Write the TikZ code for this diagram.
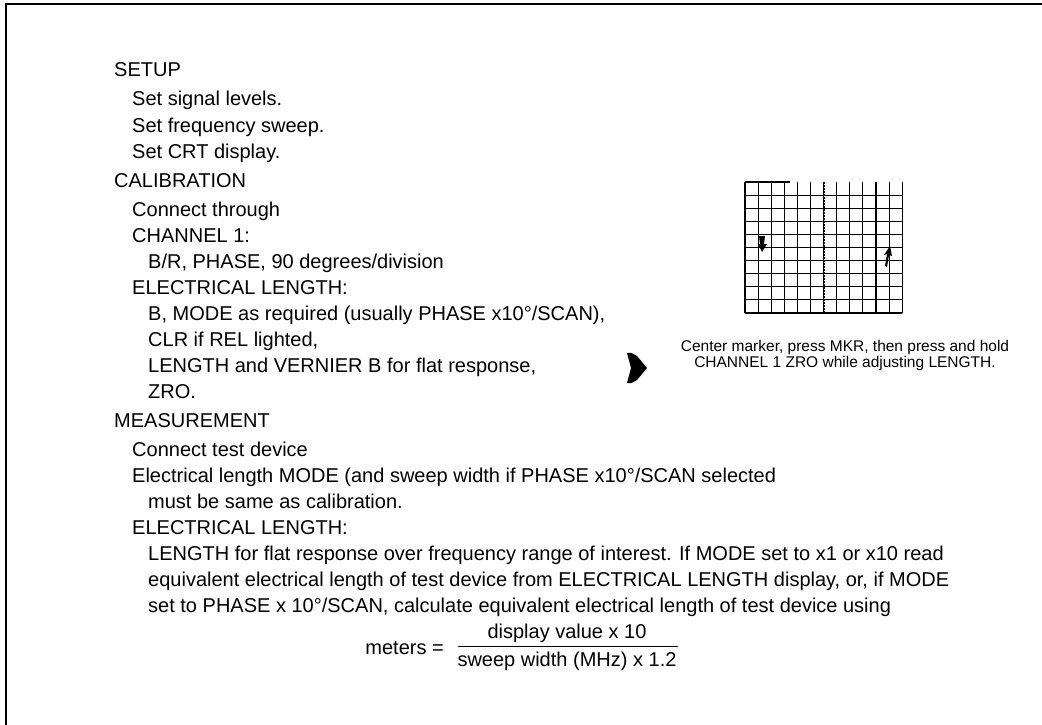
\documentclass[tikz,border=0pt]{standalone}
\usepackage{fontspec}
\setmainfont{Liberation Sans}
\begin{document}
\begin{tikzpicture}[x=1pt,y=-1pt,
  txt/.style={anchor=base west,inner sep=0pt,font=\fontsize{20}{24}\selectfont},
  frm/.style={inner sep=0pt,font=\fontsize{20}{24}\selectfont},
  capt/.style={inner sep=0pt,anchor=base,font=\fontsize{15.5}{18}\selectfont},
  gridln/.style={line width=1.1pt},
  border/.style={line width=1.6pt}]
\useasboundingbox (0,0) rectangle (1042,725);
% page frame
\coordinate (tl) at (6,4);
\coordinate (tr) at (1042,4);
\coordinate (bl) at (6,725);
\draw[border] (tr) -- (tl) -- (bl);
% text
\def\xa{114}\def\xb{132}\def\xc{148}
\node[txt] (t1) at (\xa,77) {SETUP};
\node[txt] (t2) at (\xb,106) {Set signal levels.};
\node[txt] (t3) at (\xb,132) {Set frequency sweep.};
\node[txt] (t4) at (\xb,158) {Set CRT display.};
\node[txt] (t5) at (\xa,187) {CALIBRATION};
\node[txt] (t6) at (\xb,216) {Connect through};
\node[txt] (t7) at (\xb,242) {CHANNEL 1:};
\node[txt] (t8) at (\xc,268) {B/R, PHASE, 90 degrees/division};
\node[txt] (t9) at (\xb,294) {ELECTRICAL LENGTH:};
\node[txt] (t10) at (\xc,320) {B, MODE as required (usually PHASE x10°/SCAN),};
\node[txt] (t11) at (\xc,346) {CLR if REL lighted,};
\node[txt] (t12) at (\xc,372) {LENGTH and VERNIER B for flat response,};
\node[txt] (t13) at (\xc,398) {ZRO.};
\node[txt] (t14) at (\xa,427) {MEASUREMENT};
\node[txt] (t15) at (\xb,456) {Connect test device};
\node[txt] (t16) at (\xb,482) {Electrical length MODE (and sweep width if PHASE x10°/SCAN selected};
\node[txt] (t17) at (\xc,508) {must be same as calibration.};
\node[txt] (t18) at (\xb,534) {ELECTRICAL LENGTH:};
\node[txt] (t19) at (\xc,560) {LENGTH for flat response over frequency range of interest. If MODE set to x1 or x10 read};
\node[txt] (t20) at (\xc,586) {equivalent electrical length of test device from ELECTRICAL LENGTH display, or, if MODE};
\node[txt] (t21) at (\xc,612) {set to PHASE x 10°/SCAN, calculate equivalent electrical length of test device using};
% formula
\node[frm] (num) at (567,633) {display value x 10};
\node[frm] (den) at (567,661) {sweep width (MHz) x 1.2};
\coordinate (fl) at (458,646);
\coordinate (fr) at (678,646);
\draw[line width=0.9pt] (fl) -- (fr);
\node[frm,anchor=east] (met) at (444,648) {meters =};
% arrow
\fill (627,353) .. controls (631,352) and (634,354) .. (637,356) -- (647,368) -- (637,380)
  .. controls (634,382) and (631,384) .. (627,383) -- (631,368) -- cycle;
% CRT grid
\begin{scope}[shift={(745,182)}]
  \foreach \i in {0,...,12} \draw[gridln] (\i*13.1,0) -- (\i*13.1,131);
  \foreach \j in {1,...,10} \draw[gridln] (0,\j*13.1) -- (157.2,\j*13.1);
  \draw[gridln] (0,0) -- (45,0);
  \draw[line width=1.6pt] (0,52.4) -- (157.2,52.4);
  \draw[line width=2pt,densely dotted] (78.6,0) -- (78.6,131);
  \draw[line width=1.6pt,densely dotted] (0,65.5) -- (157.2,65.5);
  \fill (14,54) -- (20,54) -- (19,62) -- (22,62) -- (17,70) -- (13,62) -- (15,62) -- cycle;
  \fill (140,84) -- (142,72) -- (139,73) -- (145,64) -- (147,74) -- (144,73) -- (142,85) -- cycle;
\end{scope}
% caption
\node[capt] (c1) at (845,351) {Center marker, press MKR, then press and hold};
\node[capt] (c2) at (845,367) {CHANNEL 1 ZRO while adjusting LENGTH.};
\end{tikzpicture}
\end{document}
